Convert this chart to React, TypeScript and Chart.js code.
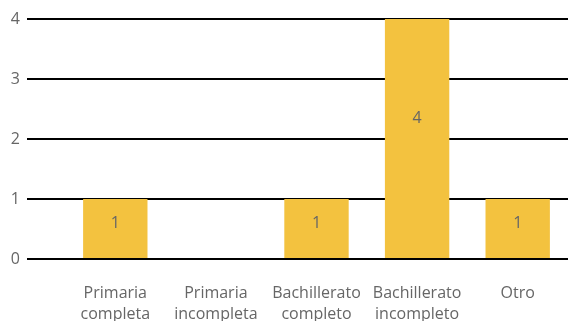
import React, { useEffect, useRef } from "react";
import { Chart, registerables } from "chart.js";

Chart.register(...registerables);

const categories: string[][] = [
  ["Primaria", "completa"],
  ["Primaria", "incompleta"],
  ["Bachillerato", "completo"],
  ["Bachillerato", "incompleto"],
  ["Otro"],
];
const values: number[] = [1, 0, 1, 4, 1];
const yTicks: number[] = [0, 1, 2, 3, 4];

const FONT = "'Open Sans', 'Noto Sans', sans-serif";

const valueLabels = {
  id: "valueLabels",
  afterDatasetsDraw(chart: any) {
    const ctx = chart.ctx;
    const meta = chart.getDatasetMeta(0);
    const yScale = chart.scales.y;
    ctx.save();
    ctx.font = `16px ${FONT}`;
    ctx.fillStyle = "#666666";
    ctx.textAlign = "center";
    ctx.textBaseline = "middle";
    meta.data.forEach((bar: any, i: number) => {
      const v = values[i];
      if (!v) return;
      const y = yScale.getPixelForValue(v * 0.585);
      ctx.fillText(String(v), bar.x, y);
    });
    ctx.restore();
  },
};

export default function App() {
  const ref = useRef<HTMLCanvasElement>(null);
  useEffect(() => {
    if (!ref.current) return;
    const chart = new Chart(ref.current, {
      type: "bar",
      data: {
        labels: categories,
        datasets: [
          {
            data: values,
            backgroundColor: "#F3C23F",
            borderWidth: 0,
            categoryPercentage: 1,
            barPercentage: 0.64,
          },
        ],
      },
      options: {
        animation: false,
        responsive: true,
        maintainAspectRatio: false,
        layout: { padding: { top: 19, right: 1, left: 0, bottom: 0 } },
        plugins: { legend: { display: false }, tooltip: { enabled: false } },
        scales: {
          x: {
            grid: { display: false },
            border: { display: false },
            ticks: {
              color: "#666666",
              font: { family: FONT, size: 16, lineHeight: 1.3 },
              padding: 16,
              maxRotation: 0,
              autoSkip: false,
            },
            afterFit: (s: any) => {
              s.height = 62;
            },
          },
          y: {
            min: 0,
            max: 4,
            afterBuildTicks: (s: any) => {
              s.ticks = yTicks.map((v) => ({ value: v }));
            },
            grid: { color: "#000000", lineWidth: 2, tickLength: 38, drawTicks: true },
            border: { display: false },
            ticks: {
              color: "#666666",
              font: { family: FONT, size: 16 },
              padding: 7,
            },
            afterFit: (s: any) => {
              s.width = 65;
            },
          },
        },
      },
      plugins: [valueLabels],
    });
    return () => chart.destroy();
  }, []);
  return (
    <div style={{ position: "absolute", left: 0, top: 0, width: 569, height: 321 }}>
      <canvas ref={ref} />
    </div>
  );
}
